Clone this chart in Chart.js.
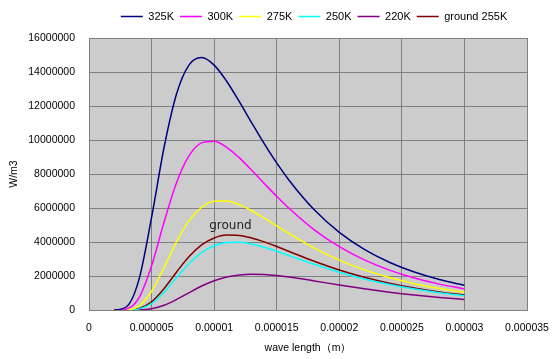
<!DOCTYPE html>
<html>
<head>
<meta charset="utf-8">
<script src="https://cdn.jsdelivr.net/npm/chart.js@4"></script>
<style>
  body { margin: 0; background: #fff; }
</style>
</head>
<body>
<canvas id="myChart" width="555" height="359"></canvas>
<script>
// wavelength in metres
const wavelengths = [0.000002, 0.000003, 0.000004, 0.000005, 0.000006, 0.000007, 0.000008, 0.000009, 0.00001, 0.000011, 0.000012, 0.000013, 0.000014, 0.000015, 0.000016, 0.000018, 0.00002, 0.000022, 0.000024, 0.000026, 0.000028, 0.00003];

const seriesLabels = ["325K", "300K", "275K", "250K", "220K", "ground 255K"];
const seriesColors = ["#000080", "#FF00FF", "#FFFF00", "#00FFFF", "#800080", "#800000"];

const values325 = [907, 191230, 1815700, 5443500, 9573000, 12723300, 14417600, 14847300, 14405200, 13457200, 12268700, 11012900, 9789600, 8650300, 7618600, 5891700, 4568200, 3566200, 2808700, 2233300, 1792800, 1452700];
const values300 = [143, 55913, 721990, 2602500, 5175000, 7505900, 9078300, 9829900, 9924000, 9572900, 8961400, 8222200, 7445600, 6683900, 5967400, 4718100, 3721800, 2945600, 2345800, 1882400, 1522800, 1242000];
const values275 = [16, 13071, 242740, 1088100, 2501600, 4024200, 5258300, 6044500, 6398200, 6413200, 6195900, 5837200, 5404400, 4944800, 4487600, 3644500, 2935100, 2361900, 1906500, 1546900, 1263100, 1038400];
const values250 = [1, 2285, 65628, 382190, 1045900, 1905300, 2732400, 3375400, 3783400, 3972800, 3988300, 3879800, 3691200, 3456700, 3200700, 2686100, 2219300, 1822500, 1495700, 1230300, 1016200, 843640];
const values220 = [0, 167, 9226, 79541, 282760, 620840, 1024000, 1409900, 1723000, 1941200, 2065500, 2109900, 2092200, 2030200, 1938800, 1711100, 1470500, 1246200, 1049200, 881580, 741240, 624710];
const values255 = [1, 3328, 87016, 478940, 1262400, 2238600, 3146600, 3827000, 4236900, 4404500, 4385000, 4236300, 4006700, 3733200, 3441700, 2867800, 2356300, 1926500, 1575300, 1292000, 1064400, 881790];

const xTickLabels = ["0", "0.000005", "0.00001", "0.000015", "0.00002", "0.000025", "0.00003", "0.000035"];
const yTickLabels = ["0", "2000000", "4000000", "6000000", "8000000", "10000000", "12000000", "14000000", "16000000"];

const groundNote = { text: "ground", x: 0.0000113, y: 4940000 };

const allValues = [values325, values300, values275, values250, values220, values255];

const plotBackground = {
  id: "plotBackground",
  beforeDraw(chart) {
    const { ctx, chartArea: a } = chart;
    ctx.save();
    ctx.fillStyle = "#CCCCCC";
    ctx.fillRect(a.left, a.top, a.right - a.left, a.bottom - a.top);
    ctx.restore();
  },
  afterLayout(chart) {
    // put the legend over the plot and lift it a little, like the original
    const lg = chart.legend;
    const shift = (chart.chartArea.left + chart.chartArea.right) / 2 - (lg.left + lg.right) / 2 + 6;
    lg.left += shift;
    lg.right += shift;
    lg.top -= 6;
    lg.bottom -= 6;
  },
  afterDatasetsDraw(chart) {
    const { ctx, scales } = chart;
    ctx.save();
    ctx.font = "12px 'DejaVu Sans'";
    ctx.fillStyle = "#222";
    ctx.textAlign = "center";
    ctx.textBaseline = "middle";
    ctx.fillText(groundNote.text, scales.x.getPixelForValue(groundNote.x), scales.y.getPixelForValue(groundNote.y));
    ctx.restore();
  },
};

const font = { family: "'Liberation Sans', Arial, sans-serif", size: 10.5 };

new Chart(document.getElementById("myChart"), {
  type: "line",
  data: {
    datasets: allValues.map((vals, i) => ({
      label: seriesLabels[i],
      data: vals.map((v, j) => ({ x: wavelengths[j], y: v })),
      borderColor: seriesColors[i],
      backgroundColor: seriesColors[i],
      borderWidth: 1.5,
      pointRadius: 0,
      cubicInterpolationMode: "monotone",
      fill: false,
    })),
  },
  options: {
    responsive: false,
    animation: false,
    layout: { padding: { top: 11, right: 28, left: 0, bottom: 0 } },
    plugins: {
      legend: {
        position: "top",
        labels: {
          usePointStyle: true,
          pointStyle: "line",
          pointStyleWidth: 22,
          padding: 6,
          color: "#000",
          font: { family: font.family, size: 11 },
        },
      },
      tooltip: { enabled: false },
    },
    scales: {
      x: {
        type: "linear",
        min: 0,
        max: 0.000035,
        afterFit(s) {
          s.height = 49;
          s.paddingLeft = 0;
          s.paddingRight = 0;
        },
        ticks: {
          stepSize: 0.000005,
          padding: 12,
          color: "#000",
          font,
          maxRotation: 0,
          callback: (v) => xTickLabels[Math.round(v / 0.000005)],
        },
        grid: { color: "#808080", drawTicks: false },
        border: { color: "#808080" },
        title: {
          display: true,
          text: "wave length（m）",
          color: "#000",
          font,
          padding: { top: 0, bottom: 5 },
        },
      },
      y: {
        min: 0,
        max: 16000000,
        afterFit(s) { s.width = 89; },
        ticks: {
          stepSize: 2000000,
          padding: 14,
          color: "#000",
          font,
          callback: (v) => yTickLabels[Math.round(v / 2000000)],
        },
        grid: { color: "#808080", drawTicks: false },
        border: { color: "#808080" },
        title: {
          display: true,
          text: "W/m3",
          color: "#000",
          font,
          padding: { top: 8, bottom: 0 },
        },
      },
    },
  },
  plugins: [plotBackground],
});
</script>
</body>
</html>
